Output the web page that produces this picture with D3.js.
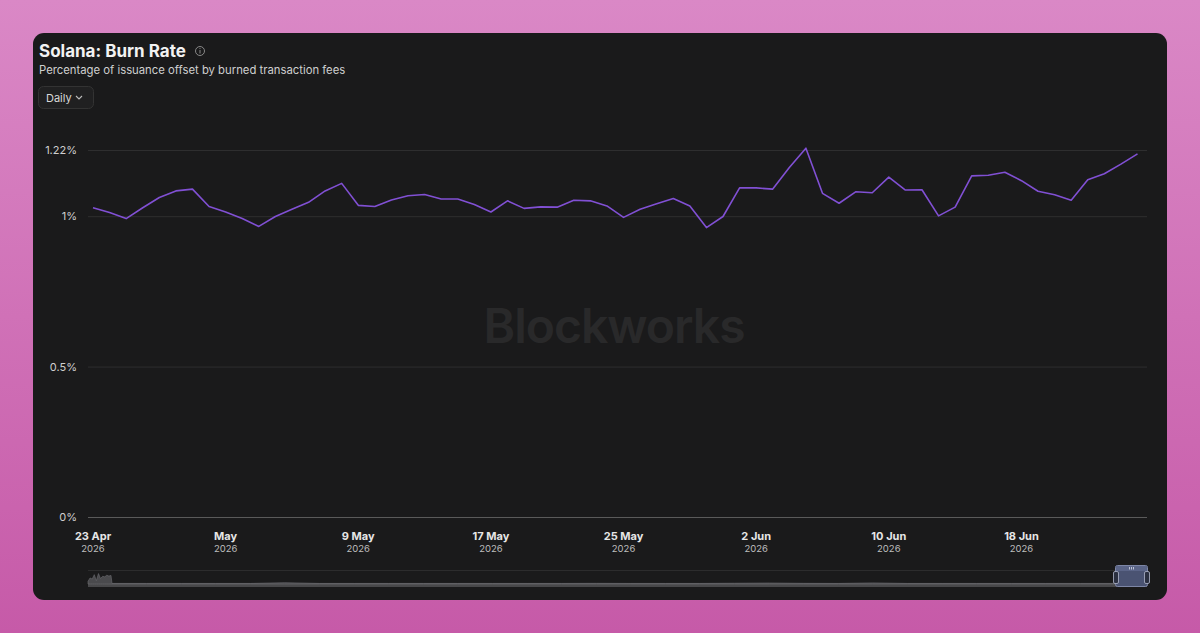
<!DOCTYPE html>
<html>
<head>
<meta charset="utf-8">
<script src="https://cdn.jsdelivr.net/npm/d3@7"></script>
<style>
  html, body { margin: 0; padding: 0; }
  body { width: 1200px; height: 633px; overflow: hidden; font-family: Inter, "Noto Sans", sans-serif; }
</style>
</head>
<body>
<div id="chart"></div>
<script>
const ctx = {
    W: 1200,
    H: 633,
    LEFT: 88,
    RIGHT: 1147,
    TOP: 150,
    BOTTOM: 517,
};

// daily burn rate (%), 23 Apr 2026 .. 25 Jun 2026
const startDate = "2026-04-23";
const burnRate = [
    1.028, 1.012, 0.992, 1.028, 1.062, 1.084, 1.090, 1.032, 1.014, 0.992,
    0.966, 0.999, 1.023, 1.046, 1.084, 1.109, 1.036, 1.032, 1.054, 1.068,
    1.072, 1.057, 1.057, 1.039, 1.014, 1.051, 1.026, 1.031, 1.030, 1.053,
    1.051, 1.034, 0.996, 1.023, 1.041, 1.059, 1.034, 0.962, 0.999, 1.094,
    1.094, 1.090, 1.162, 1.226, 1.076, 1.043, 1.081, 1.078, 1.130, 1.087,
    1.088, 1.001, 1.030, 1.134, 1.136, 1.146, 1.118, 1.083, 1.071, 1.053,
    1.121, 1.141, 1.173, 1.207
];
const yTicks = [0, 0.5, 1, 1.22];
const xTickDates = ["2026-04-23", "2026-05-01", "2026-05-09", "2026-05-17", "2026-05-25", "2026-06-02", "2026-06-10", "2026-06-18"];

// navigator overview (full history, relative heights): early spiky part, then long flat tail
const navEarly = [0.25, 0.55, 0.45, 0.85, 0.3, 0.95, 0.5, 0.7, 0.65, 0.8, 0.72, 0.78];
const navLate = [0.05, 0.05, 0.05, 0.05, 0.05, 0.12, 0.05, 0.05, 0.05, 0.05, 0.05, 0.05, 0.05, 0.05,
    0.06, 0.05, 0.05, 0.05, 0.07, 0.09, 0.06, 0.05, 0.1, 0.05, 0.05, 0.05, 0.05, 0.05, 0.05, 0.05];

function createViz() {
    const svg = d3.select("#chart").append("svg")
        .attr("width", ctx.W)
        .attr("height", ctx.H);

    const defs = svg.append("defs");
    const grad = defs.append("linearGradient").attr("id", "bg").attr("x1", 0).attr("y1", 0).attr("x2", 0).attr("y2", 1);
    grad.append("stop").attr("offset", "0%").attr("stop-color", "#da88c6");
    grad.append("stop").attr("offset", "100%").attr("stop-color", "#c65aa8");

    svg.append("rect").attr("width", ctx.W).attr("height", ctx.H).attr("fill", "url(#bg)");

    // card
    svg.append("rect")
        .attr("x", 33).attr("y", 33)
        .attr("width", 1134).attr("height", 567)
        .attr("rx", 11)
        .attr("fill", "#1a1a1b");

    // header
    svg.append("text").attr("x", 39).attr("y", 57)
        .attr("fill", "#f2f2f2").attr("font-size", 17).attr("font-weight", 700)
        .text("Solana: Burn Rate");
    svg.append("circle").attr("cx", 200).attr("cy", 51).attr("r", 4.5)
        .attr("fill", "none").attr("stroke", "#888").attr("stroke-width", 1);
    svg.append("line").attr("x1", 200).attr("x2", 200).attr("y1", 50).attr("y2", 53.5)
        .attr("stroke", "#888").attr("stroke-width", 1);
    svg.append("circle").attr("cx", 200).attr("cy", 48.5).attr("r", 0.6).attr("fill", "#888");
    svg.append("text").attr("x", 39).attr("y", 74)
        .attr("fill", "#cfcfcf").attr("font-size", 11.3)
        .text("Percentage of issuance offset by burned transaction fees");

    // Daily dropdown
    svg.append("rect").attr("x", 38.5).attr("y", 86.5).attr("width", 55).attr("height", 22).attr("rx", 5)
        .attr("fill", "#202021").attr("stroke", "#333").attr("stroke-width", 1);
    svg.append("text").attr("x", 46).attr("y", 101.5)
        .attr("fill", "#d8d8d8").attr("font-size", 11).text("Daily");
    svg.append("path").attr("d", "M76,96 L79,99 L82,96")
        .attr("fill", "none").attr("stroke", "#bbb").attr("stroke-width", 1.1);

    // scales
    const parse = d3.utcParse("%Y-%m-%d");
    const t0 = parse(startDate);
    const data = burnRate.map((v, i) => ({ date: d3.utcDay.offset(t0, i), value: v }));

    const x = d3.scaleUtc()
        .domain([t0, d3.utcDay.offset(t0, 63)])
        .range([93, 1137.5]);
    const y = d3.scaleLinear()
        .domain([0, 1.22])
        .range([ctx.BOTTOM, ctx.TOP]);

    // watermark
    svg.append("text").attr("x", 614).attr("y", 343)
        .attr("text-anchor", "middle")
        .attr("fill", "#29292a").attr("font-size", 48).attr("font-weight", 600)
        .attr("letter-spacing", -1)
        .text("Blockworks");

    // y grid + labels
    const yAxis = svg.append("g").attr("transform", `translate(${ctx.LEFT},0)`)
        .call(d3.axisLeft(y).tickValues(yTicks)
            .tickSize(-(ctx.RIGHT - ctx.LEFT))
            .tickPadding(11)
            .tickFormat(d => d + "%"));
    yAxis.select(".domain").remove();
    yAxis.selectAll(".tick line")
        .attr("stroke", d => d === 0 ? "#5a5a5a" : "#2e2e2f");
    yAxis.selectAll(".tick text")
        .attr("fill", "#cfcfcf").attr("font-size", 11).attr("font-family", "Inter, sans-serif");

    // x axis labels
    const xg = svg.append("g");
    const xt = xg.selectAll("g").data(xTickDates.map(parse)).enter().append("g")
        .attr("transform", d => `translate(${x(d)},0)`);
    xt.append("text").attr("y", 540).attr("text-anchor", "middle")
        .attr("fill", "#e6e6e6").attr("font-size", 11).attr("font-weight", 700)
        .text(d => d.getUTCDate() === 1 ? d3.utcFormat("%b")(d) : d3.utcFormat("%-d %b")(d));
    xt.append("text").attr("y", 552).attr("text-anchor", "middle")
        .attr("fill", "#bdbdbd").attr("font-size", 9.5)
        .text(d => d3.utcFormat("%Y")(d));

    // line
    const line = d3.line().x(d => x(d.date)).y(d => y(d.value));
    svg.append("path").datum(data)
        .attr("d", line)
        .attr("fill", "none")
        .attr("stroke", "#8150d4")
        .attr("stroke-width", 1.6)
        .attr("stroke-linejoin", "round");

    // navigator
    const nav = svg.append("g");
    nav.append("line").attr("x1", ctx.LEFT).attr("x2", ctx.RIGHT).attr("y1", 570.5).attr("y2", 570.5)
        .attr("stroke", "#2c2c2d");
    nav.append("rect").attr("x", ctx.LEFT).attr("y", 583).attr("width", ctx.RIGHT - ctx.LEFT).attr("height", 4)
        .attr("fill", "#48484a");

    const navAll = navEarly.concat(navLate);
    const nE = navEarly.length;
    const nx = d3.scaleLinear()
        .domain([0, nE - 1, nE, navAll.length - 1])
        .range([ctx.LEFT, 111, 112, 1115]);
    const ny = d3.scaleLinear().domain([0, 1]).range([584, 573]);
    nav.append("path").datum(navAll)
        .attr("d", d3.area().x((d, i) => nx(i)).y0(584).y1(d => ny(d)))
        .attr("fill", "#4a4a4d").attr("stroke", "#6c6c70").attr("stroke-width", 0.6);

    // selection handle
    nav.append("rect").attr("x", 1115.5).attr("y", 565.5).attr("width", 32).attr("height", 21).attr("rx", 2)
        .attr("fill", "#4a5372").attr("stroke", "#7d86a6").attr("stroke-width", 1);
    nav.append("rect").attr("x", 1116).attr("y", 566).attr("width", 31).attr("height", 5)
        .attr("fill", "#5b6588");
    [1129.5, 1131.5, 1133.5].forEach(gx => {
        nav.append("line").attr("x1", gx).attr("x2", gx).attr("y1", 567).attr("y2", 569.5)
            .attr("stroke", "#d8dcea").attr("stroke-width", 0.8);
    });
    [1116, 1147].forEach(hx => {
        nav.append("rect").attr("x", hx - 2.5).attr("y", 571.5).attr("width", 5).attr("height", 12).attr("rx", 1.5)
            .attr("fill", "#2b3040").attr("stroke", "#b0b6cc").attr("stroke-width", 0.8);
    });
}

createViz();
</script>
</body>
</html>
